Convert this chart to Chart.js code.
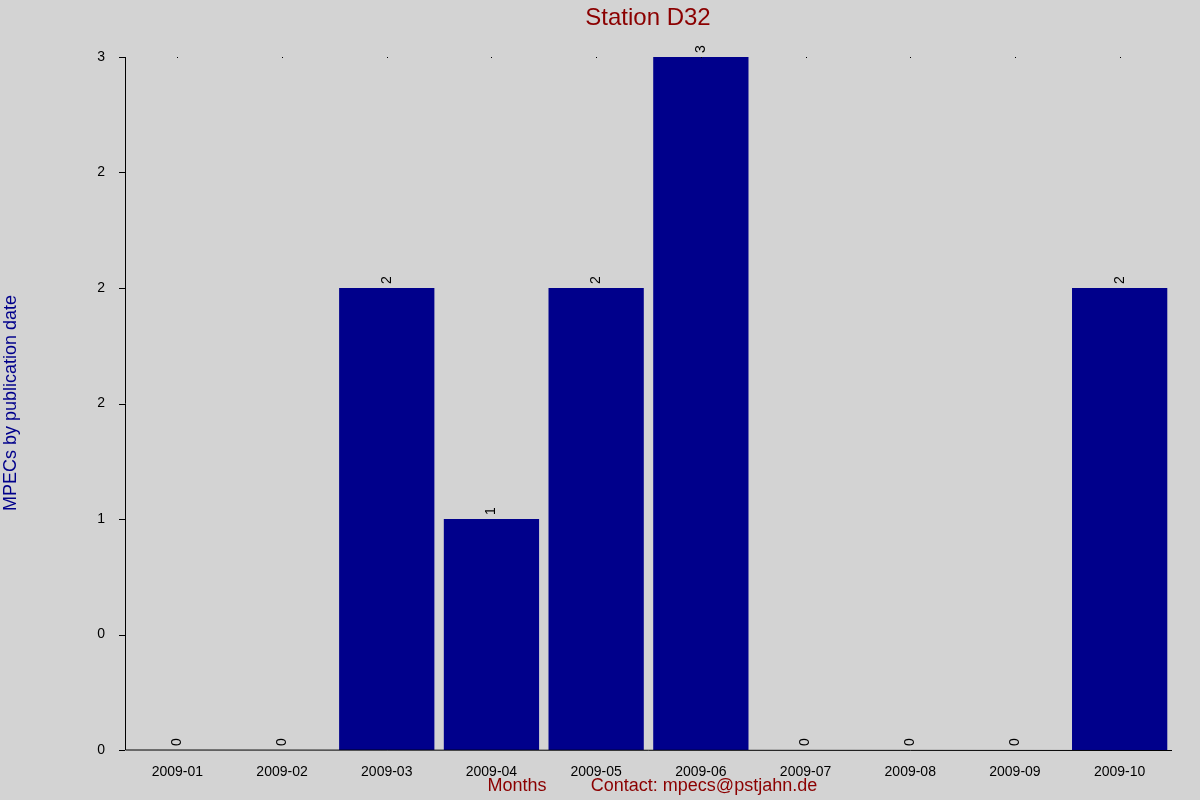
<!DOCTYPE html>
<html><head><meta charset="utf-8">
<script src="https://cdn.jsdelivr.net/npm/chart.js@4"></script>
<style>html,body{margin:0;padding:0;background:#d3d3d3}</style>
</head><body>
<div style="width:1200px;height:800px"><canvas id="c" width="1200" height="800"></canvas></div>
<script>
const categories = ["2009-01","2009-02","2009-03","2009-04","2009-05","2009-06","2009-07","2009-08","2009-09","2009-10"];
const values = [0,0,2,1,2,3,0,0,0,2];
const tickValues = [0,0.5,1,1.5,2,2.5,3];
const tickLabels = ["0","0","1","2","2","2","3"];

const deco = {
  id:'deco',
  beforeDraw(ch){const c=ch.ctx;c.save();c.fillStyle='#d3d3d3';c.fillRect(0,0,ch.width,ch.height);c.restore();},
  afterDraw(ch){
    const c=ch.ctx, a=ch.chartArea, x=ch.scales.x, y=ch.scales.y;
    c.save();
    c.fillStyle='#8b0000';c.font='24px "Liberation Sans", Arial';c.textAlign='center';c.textBaseline='middle';
    c.fillText('Station D32',648,18);
    c.font='18px "Liberation Sans", Arial';
    c.fillText('Months',517,786);
    c.fillText('Contact: mpecs@pstjahn.de',704,786);
    c.fillStyle='#00008b';
    c.translate(11,403);c.rotate(-Math.PI/2);c.fillText('MPECs by publication date',0,0);
    c.restore();
    c.save();
    c.strokeStyle='#000';c.lineWidth=1;
    c.beginPath();c.moveTo(a.left+0.5,a.top);c.lineTo(a.left+0.5,a.bottom);c.lineTo(a.right,a.bottom+0.5);c.stroke();
    tickValues.forEach(v=>{const py=Math.round(y.getPixelForValue(v))+0.5;c.beginPath();c.moveTo(a.left-6,py);c.lineTo(a.left,py);c.stroke();});
    c.fillStyle='#000';
    categories.forEach((_,i)=>{c.fillRect(Math.round(x.getPixelForValue(i)),a.top,1,1);});
    const meta=ch.getDatasetMeta(0);
    c.font='14px "Liberation Sans", Arial';c.textAlign='left';c.textBaseline='middle';
    meta.data.forEach((b,i)=>{c.save();c.translate(b.x,b.y-4);c.rotate(-Math.PI/2);c.fillText(String(values[i]),0,0);c.restore();});
    c.restore();
  }
};

new Chart(document.getElementById('c'),{
  type:'bar',
  data:{labels:categories,datasets:[{data:values,backgroundColor:'#00008b',categoryPercentage:1,barPercentage:0.91}]},
  options:{
    responsive:false,animation:false,
    layout:{padding:{top:57,right:28,left:0,bottom:0}},
    plugins:{legend:{display:false},tooltip:{enabled:false},title:{display:false}},
    scales:{
      x:{grid:{display:false},border:{display:false},ticks:{color:'#000',font:{size:14,family:'"Liberation Sans", Arial'},maxRotation:0,padding:6},
         afterFit(s){s.height=50;}},
      y:{min:0,max:3,grid:{display:false},border:{display:false},
         afterBuildTicks(s){s.ticks=tickValues.map(v=>({value:v}));},
         ticks:{color:'#000',font:{size:14,family:'"Liberation Sans", Arial'},padding:12,callback:(v,i)=>tickLabels[i]},
         afterFit(s){s.width=125;}}
    }
  },
  plugins:[deco]
});
</script>
</body></html>
